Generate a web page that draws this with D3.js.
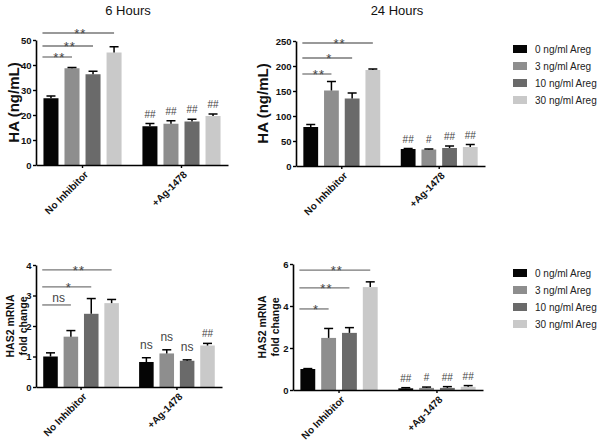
<!DOCTYPE html>
<html>
<head>
<meta charset="utf-8">
<script src="https://cdn.jsdelivr.net/npm/d3@7"></script>
<style>
  body { margin: 0; background: #fff; }
  svg text { font-family: Arial, "Liberation Sans", sans-serif; }
</style>
</head>
<body>
<div id="plot"></div>
<script>
// chart values
const groups = ["No Inhibitor", "+Ag-1478"];
const doses = ["0 ng/ml Areg", "3 ng/ml Areg", "10 ng/ml Areg", "30 ng/ml Areg"];
const doseColors = ["#050505", "#8e8e8e", "#6a6a6a", "#c9c9c9"];

const ha6 = [[26.7, 38.7, 36.3, 45.0], [15.5, 16.5, 17.4, 19.6]];
const ha6Err = [[0.9, 0.3, 1.2, 2.3], [1.1, 1.2, 0.9, 0.8]];
const ha24 = [[78, 151, 135, 192], [34, 33, 36, 38]];
const ha24Err = [[5, 18, 11, 2], [1, 1, 4, 5]];
const has6 = [[1.0, 1.65, 2.4, 2.75], [0.82, 1.1, 0.86, 1.36]];
const has6Err = [[0.12, 0.2, 0.5, 0.12], [0.14, 0.12, 0.03, 0.07]];
const has24 = [[1.0, 2.48, 2.72, 4.9], [0.08, 0.1, 0.1, 0.15]];
const has24Err = [[0.02, 0.45, 0.25, 0.25], [0.03, 0.04, 0.06, 0.06]];

// brackets vs 0 ng/ml (target dose index, label)
const sig6 = [[3, "**"], [2, "**"], [1, "**"]];
const sig24 = [[3, "**"], [2, "*"], [1, "**"]];
const sigHas6 = [[3, "**"], [2, "*"], [1, "ns"]];
const sigHas24 = [[3, "**"], [2, "**"], [1, "*"]];
// labels over the +Ag-1478 bars
const inh6 = ["##", "##", "##", "##"];
const inh24 = ["##", "#", "##", "##"];
const inhHas6 = ["ns", "ns", "ns", "##"];
const inhHas24 = ["##", "#", "##", "##"];

const svg = d3.select("#plot").append("svg")
  .attr("width", 600).attr("height", 441);

const panels = [
  { vals: ha6, err: ha6Err, sig: sig6, inh: inh6, left: 36, right: 228, bottom: 165, top: 40,
    max: 50, step: 10, brackets: [52.8, 47.6, 43.2], title: "6 Hours", titleX: 128, ylab: ["HA (ng/mL)"], labX: 19 },
  { vals: ha24, err: ha24Err, sig: sig24, inh: inh24, left: 296, right: 485, bottom: 166, top: 41,
    max: 250, step: 50, brackets: [246, 216, 184], title: "24 Hours", titleX: 397, ylab: ["HA (ng/mL)"], labX: 268 },
  { vals: has6, err: has6Err, sig: sigHas6, inh: inhHas6, left: 36, right: 222, bottom: 387, top: 265,
    max: 4, step: 1, brackets: [3.84, 3.28, 2.69], ylab: ["HAS2 mRNA", "fold change"], labX: 14 },
  { vals: has24, err: has24Err, sig: sigHas24, inh: inhHas24, left: 293, right: 483, bottom: 390, top: 264,
    max: 6, step: 2, brackets: [5.71, 4.86, 3.86], ylab: ["HAS2 mRNA", "fold change"], labX: 266 }
];

panels.forEach(p => {
  const g = svg.append("g");

  const y = d3.scaleLinear().domain([0, p.max]).range([p.bottom, p.top]);
  const x0 = d3.scaleBand().domain(groups).range([p.left, p.right])
    .paddingInner(0.15).paddingOuter(0.045);
  const x1 = d3.scaleBand().domain(d3.range(doses.length)).range([0, x0.bandwidth()])
    .paddingInner(0.286).paddingOuter(0.143);

  // bars
  groups.forEach((grp, gi) => {
    const gg = g.append("g").attr("transform", "translate(" + x0(grp) + ",0)");
    gg.selectAll("rect")
      .data(p.vals[gi])
      .enter().append("rect")
      .attr("x", (d, i) => x1(i))
      .attr("width", x1.bandwidth())
      .attr("y", d => y(d))
      .attr("height", d => y(0) - y(d))
      .attr("fill", (d, i) => doseColors[i]);

    // error bars (upper only)
    const eb = gg.selectAll("g.err")
      .data(p.vals[gi].map((v, i) => ({ v: v, e: p.err[gi][i], i: i })))
      .enter().append("g");
    eb.append("line")
      .attr("x1", d => x1(d.i) + x1.bandwidth() / 2)
      .attr("x2", d => x1(d.i) + x1.bandwidth() / 2)
      .attr("y1", d => y(d.v))
      .attr("y2", d => y(d.v + d.e))
      .attr("stroke", "#000").attr("stroke-width", 1.5);
    eb.append("line")
      .attr("x1", d => x1(d.i) + x1.bandwidth() / 2 - 4.5)
      .attr("x2", d => x1(d.i) + x1.bandwidth() / 2 + 4.5)
      .attr("y1", d => y(d.v + d.e))
      .attr("y2", d => y(d.v + d.e))
      .attr("stroke", "#000").attr("stroke-width", 1.5);
  });

  // axes
  const yAxis = g.append("g")
    .attr("transform", "translate(" + p.left + ",0)")
    .call(d3.axisLeft(y).tickValues(d3.range(0, p.max + p.step / 2, p.step))
      .tickFormat(d3.format("d")).tickSize(3).tickSizeOuter(0).tickPadding(1.5));
  const xAxis = g.append("g")
    .attr("transform", "translate(0," + p.bottom + ")")
    .call(d3.axisBottom(x0).tickSize(3).tickSizeOuter(0));
  [yAxis, xAxis].forEach(a => {
    a.select(".domain").attr("stroke", "#000").attr("stroke-width", 1.6);
    a.selectAll(".tick line").attr("stroke", "#000").attr("stroke-width", 1.4);
    a.selectAll("text").attr("font-size", 9.5).attr("font-weight", "bold").attr("fill", "#111");
  });
  xAxis.selectAll(".tick text")
    .attr("font-size", 10)
    .attr("text-anchor", "end")
    .attr("dy", 0)
    .attr("transform", "translate(2,6) rotate(-45)");

  // significance brackets vs control
  const bx = i => x0(groups[0]) + x1(i);
  p.sig.forEach((s, k) => {
    const ly = y(p.brackets[k]);
    const xs = bx(0) - 1;
    const xe = bx(s[0]) + x1.bandwidth() / 2;
    g.append("line")
      .attr("x1", xs).attr("x2", xe).attr("y1", ly).attr("y2", ly)
      .attr("stroke", "#777").attr("stroke-width", 1.3);
    const star = s[1].indexOf("*") >= 0;
    g.append("text")
      .attr("x", (xs + xe) / 2 + 2)
      .attr("y", star ? ly + 5 : ly - 3)
      .attr("text-anchor", "middle")
      .attr("font-size", star ? 13 : 12)
      .attr("letter-spacing", star ? 1 : 0)
      .attr("fill", "#444")
      .text(s[1]);
  });

  // labels over the inhibitor bars
  p.inh.forEach((lab, i) => {
    const top = y(p.vals[1][i] + p.err[1][i]);
    g.append("text")
      .attr("x", x0(groups[1]) + x1(i) + x1.bandwidth() / 2)
      .attr("y", lab === "ns" ? top - 9 : top - 6)
      .attr("text-anchor", "middle")
      .attr("font-size", lab === "ns" ? 12 : 10)
      .attr("fill", "#444")
      .text(lab);
  });

  // y label
  const midY = (p.top + p.bottom) / 2;
  const yl = g.append("text")
    .attr("transform", "translate(" + p.labX + "," + midY + ") rotate(-90)")
    .attr("text-anchor", "middle")
    .attr("font-weight", "bold")
    .attr("fill", "#111");
  if (p.ylab.length === 1) {
    yl.attr("font-size", 15).attr("y", 0).text(p.ylab[0]);
  } else {
    yl.attr("font-size", 10.5);
    yl.append("tspan").attr("x", 0).attr("y", 0).text(p.ylab[0]);
    yl.append("tspan").attr("x", 0).attr("y", 12.5).text(p.ylab[1]);
  }

  // title
  if (p.title) {
    g.append("text")
      .attr("x", p.titleX)
      .attr("y", 15)
      .attr("text-anchor", "middle")
      .attr("font-size", 13)
      .attr("fill", "#111")
      .text(p.title);
  }
});

// legends
[49, 273].forEach(ly => {
  const lg = svg.append("g").attr("transform", "translate(513," + ly + ")");
  const rows = lg.selectAll("g").data(doses).enter().append("g")
    .attr("transform", (d, i) => "translate(0," + i * 17 + ")");
  rows.append("rect")
    .attr("x", 0).attr("y", -4).attr("width", 14).attr("height", 8)
    .attr("fill", (d, i) => doseColors[i]);
  rows.append("text")
    .attr("x", 22).attr("y", 4)
    .attr("font-size", 10)
    .attr("fill", "#222")
    .text(d => d);
});
</script>
</body>
</html>
